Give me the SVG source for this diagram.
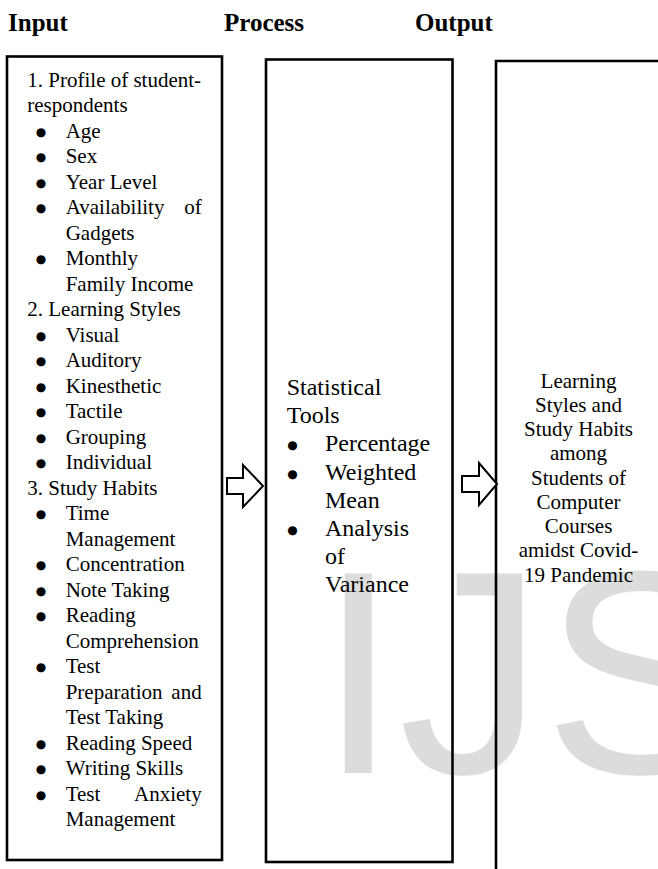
<svg xmlns="http://www.w3.org/2000/svg" width="658" height="869" viewBox="0 0 658 869">
<style>
.bg{fill:#ffffff}
.wm{font-family:"Liberation Sans",Arial,sans-serif;font-size:290px;fill:#dcdcdc}
.hd{font-family:"Liberation Serif","Times New Roman",serif;font-weight:bold;font-size:25px;fill:#000}
.box{fill:none;stroke:#000;stroke-width:2.6}
.t{font-family:"Liberation Serif","Times New Roman",serif;font-size:21px;fill:#000}
.p{font-family:"Liberation Serif","Times New Roman",serif;font-size:24px;fill:#000}
.b{font-family:"DejaVu Sans",sans-serif;font-size:12px;fill:#000;text-anchor:middle}
.c{text-anchor:middle}
.e{text-anchor:end}
.arrow{fill:#fff;stroke:#000;stroke-width:2;stroke-linejoin:miter}
</style>
<rect class="bg" x="0" y="0" width="658" height="869"/>
<text class="wm" x="318" y="773">IJS</text>

<g id="headings">
<text class="hd" x="8" y="31">Input</text>
<text class="hd" x="224" y="31">Process</text>
<text class="hd" x="415" y="31">Output</text>
</g>

<g id="input">
<rect class="box" x="7" y="56.5" width="215" height="803.5"/>
<text class="t" x="27.3" y="86.7">1. Profile of student-</text>
<text class="t" x="27.3" y="112.2">respondents</text>
<text class="b" x="41" y="135.7">●</text><text class="t" x="65.7" y="137.7">Age</text>
<text class="b" x="41" y="161.2">●</text><text class="t" x="65.7" y="163.2">Sex</text>
<text class="b" x="41" y="186.7">●</text><text class="t" x="65.7" y="188.7">Year Level</text>
<text class="b" x="41" y="212.2">●</text><text class="t" x="65.7" y="214.2">Availability</text><text class="t e" x="201.7" y="214.2">of</text>
<text class="t" x="65.7" y="239.7">Gadgets</text>
<text class="b" x="41" y="263.2">●</text><text class="t" x="65.7" y="265.2">Monthly</text>
<text class="t" x="65.7" y="290.7">Family Income</text>
<text class="t" x="27.3" y="316.2">2. Learning Styles</text>
<text class="b" x="41" y="339.7">●</text><text class="t" x="65.7" y="341.7">Visual</text>
<text class="b" x="41" y="365.2">●</text><text class="t" x="65.7" y="367.2">Auditory</text>
<text class="b" x="41" y="390.7">●</text><text class="t" x="65.7" y="392.7">Kinesthetic</text>
<text class="b" x="41" y="416.2">●</text><text class="t" x="65.7" y="418.2">Tactile</text>
<text class="b" x="41" y="441.7">●</text><text class="t" x="65.7" y="443.7">Grouping</text>
<text class="b" x="41" y="467.2">●</text><text class="t" x="65.7" y="469.2">Individual</text>
<text class="t" x="27.3" y="494.7">3. Study Habits</text>
<text class="b" x="41" y="518.2">●</text><text class="t" x="65.7" y="520.2">Time</text>
<text class="t" x="65.7" y="545.7">Management</text>
<text class="b" x="41" y="569.2">●</text><text class="t" x="65.7" y="571.2">Concentration</text>
<text class="b" x="41" y="594.7">●</text><text class="t" x="65.7" y="596.7">Note Taking</text>
<text class="b" x="41" y="620.2">●</text><text class="t" x="65.7" y="622.2">Reading</text>
<text class="t" x="65.7" y="647.7">Comprehension</text>
<text class="b" x="41" y="671.2">●</text><text class="t" x="65.7" y="673.2">Test</text>
<text class="t" x="65.7" y="698.7">Preparation</text><text class="t e" x="201.7" y="698.7">and</text>
<text class="t" x="65.7" y="724.2">Test Taking</text>
<text class="b" x="41" y="747.7">●</text><text class="t" x="65.7" y="749.7">Reading Speed</text>
<text class="b" x="41" y="773.2">●</text><text class="t" x="65.7" y="775.2">Writing Skills</text>
<text class="b" x="41" y="798.7">●</text><text class="t" x="65.7" y="800.7">Test</text><text class="t e" x="201.7" y="800.7">Anxiety</text>
<text class="t" x="65.7" y="826.2">Management</text>
</g>

<g id="process">
<rect class="box" x="266" y="59.5" width="186.5" height="802.5"/>
<text class="p" x="286.7" y="395">Statistical</text>
<text class="p" x="286.7" y="423.2">Tools</text>
<text class="b" x="292.5" y="449.4">●</text><text class="p" x="325" y="451.4">Percentage</text>
<text class="b" x="292.5" y="477.6">●</text><text class="p" x="325" y="479.6">Weighted</text>
<text class="p" x="325" y="507.8">Mean</text>
<text class="b" x="292.5" y="534">●</text><text class="p" x="325" y="536">Analysis</text>
<text class="p" x="325" y="564.2">of</text>
<text class="p" x="325" y="592.4">Variance</text>
</g>

<g id="output">
<path class="box" d="M660,61 H496 V870"/>
<text class="t c" x="578.5" y="387.5">Learning</text>
<text class="t c" x="578.5" y="411.75">Styles and</text>
<text class="t c" x="578.5" y="436">Study Habits</text>
<text class="t c" x="578.5" y="460.25">among</text>
<text class="t c" x="578.5" y="484.5">Students of</text>
<text class="t c" x="578.5" y="508.75">Computer</text>
<text class="t c" x="578.5" y="533">Courses</text>
<text class="t c" x="578.5" y="557.25">amidst Covid-</text>
<text class="t c" x="578.5" y="581.5">19 Pandemic</text>
</g>

<g id="connectors">
<path class="arrow" d="M227,478 H243 V465 L263,486 L243,507 V494 H227 Z"/>
<path class="arrow" d="M462,476 H479 V463 L497,484 L479,505 V492 H462 Z"/>
</g>
</svg>
